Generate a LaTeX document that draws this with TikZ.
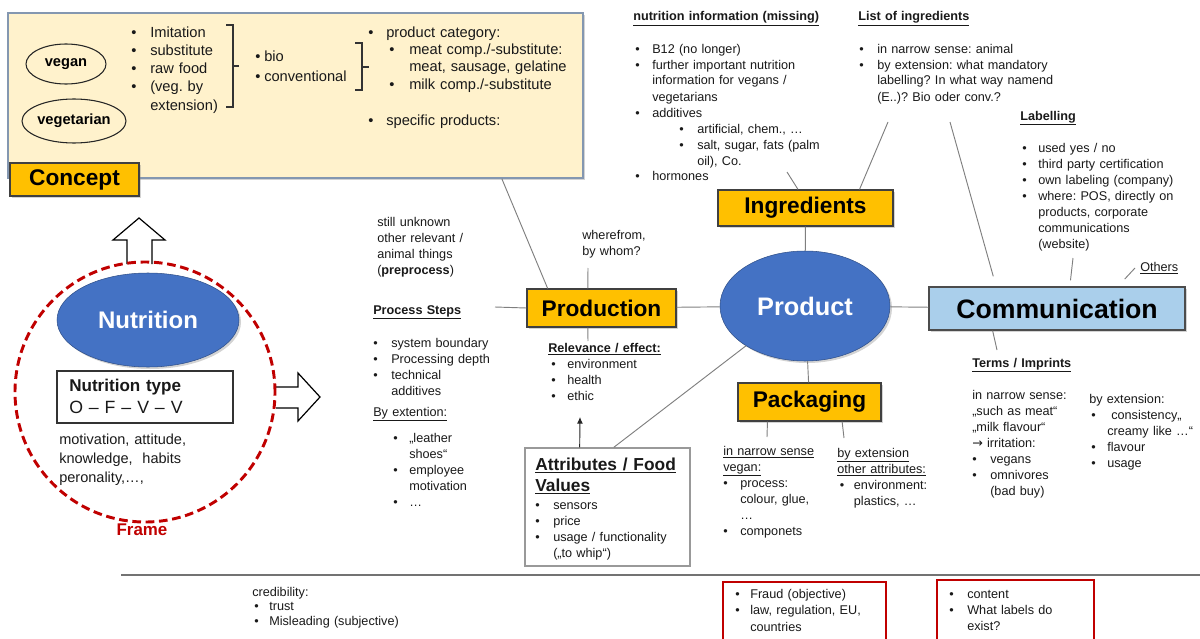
\documentclass[tikz,border=0pt]{standalone}
\usepackage{fontspec}
\setmainfont{Liberation Sans}
\newfontfamily\symfont{DejaVu Sans}
\usetikzlibrary{shapes.geometric,shadows,arrows.meta}
\definecolor{boxorange}{HTML}{FFC000}
\definecolor{conceptfill}{HTML}{FFF2CC}
\definecolor{conceptline}{HTML}{8497B0}
\definecolor{nodeblue}{HTML}{4472C4}
\definecolor{commblue}{HTML}{AACFEB}
\definecolor{framered}{HTML}{C00000}
\definecolor{linegray}{HTML}{7F7F7F}
\newcommand{\bl}[1][12pt]{\makebox[#1][l]{\textbullet}}
\newcommand{\ct}[1][12pt]{\hspace*{#1}}
\frenchspacing

\begin{document}
\begin{tikzpicture}[x=0.75pt,y=-0.75pt,
  txt/.style={font=\fontsize{9.5}{12}\selectfont,text=black!90,anchor=base west,align=left,inner sep=0pt,text width=7cm},
  head/.style={txt,font=\fontsize{9.5}{12}\selectfont\bfseries},
  bigtxt/.style={txt,font=\fontsize{11}{13.7}\selectfont},
  shade/.style={drop shadow={shadow xshift=1.5pt,shadow yshift=-1.5pt,opacity=0.35}},
  obox/.style={draw=black!75,fill=boxorange,line width=0.9pt,font=\fontsize{17}{20}\selectfont\bfseries,inner sep=0pt,shade},
  oval/.style={ellipse,draw=nodeblue!70!black,fill=nodeblue,text=white,font=\fontsize{18}{20}\selectfont\bfseries,inner sep=0pt,shade},
  ring/.style={ellipse,draw=black!85,line width=0.8pt,inner sep=0pt,font=\fontsize{11}{13}\selectfont\bfseries},
  conn/.style={draw=linegray,line width=0.7pt},
  barrow/.style={draw=black,fill=white,line width=0.9pt,line join=miter},
  redbox/.style={draw=framered,line width=0.8pt,inner sep=0pt}]

\useasboundingbox (0,0) rectangle (1200,639);

\node[draw=conceptline,line width=1.3pt,fill=conceptfill,minimum width=431.25pt,minimum height=123.75pt,inner sep=0pt,shade] (concept) at (295.5,95.5) {};
\node[obox,minimum width=96.75pt,minimum height=24.75pt] (conceptlbl) at (74.5,179.5) {Concept};
\node[ring,minimum width=60pt,minimum height=30pt] (vegan) at (66,64) {vegan};
\node[ring,minimum width=78pt,minimum height=33pt] (vegetarian) at (74,121) {vegetarian};
\node[bigtxt] (veglist) at (131,37) {\bl[14.25pt]Imitation\\ \bl[14.25pt]substitute\\ \bl[14.25pt]raw food\\ \bl[14.25pt](veg. by\\ \ct[14.25pt]extension)};
\draw[line width=0.8pt,draw=black!80] (226,25) -- (233,25) -- (233,107) -- (226,107) (233,66) -- (239,66);
\node[bigtxt,font=\fontsize{11}{15}\selectfont] (biolist) at (255,61) {\bl[6.75pt]bio\\ \bl[6.75pt]conventional};
\draw[line width=0.8pt,draw=black!80] (355,43) -- (362,43) -- (362,90) -- (355,90) (362,67) -- (369,67);
\node[bigtxt,font=\fontsize{11}{13}\selectfont] (category) at (368,37) {\bl[13.5pt]product category:\\ \ct[15.75pt]\bl[15pt]meat comp./-substitute:\\ \ct[30.75pt]meat, sausage, gelatine\\ \ct[15.75pt]\bl[15pt]milk comp./-substitute};
\node[bigtxt] (specific) at (368,125) {\bl[13.5pt]specific products:};

\node[head] (nutinfohd) at (633,21) {\underline{nutrition information (missing)}};
\node[txt] (nutinfo) at (635,53) {\bl[12.75pt]B12 (no longer)\\ \bl[12.75pt]further important nutrition\\ \ct[12.75pt]information for vegans /\\ \ct[12.75pt]vegetarians\\ \bl[12.75pt]additives\\ \ct[33pt]\bl[13.5pt]artificial, chem., …\\ \ct[33pt]\bl[13.5pt]salt, sugar, fats (palm\\ \ct[46.5pt]oil), Co.\\ \bl[12.75pt]hormones};
\node[head] (listhd) at (858,21) {\underline{List of ingredients}};
\node[txt] (listing) at (859,53) {\bl[13.5pt]in narrow sense: animal\\ \bl[13.5pt]by extension: what mandatory\\ \ct[13.5pt]labelling? In what way namend\\ \ct[13.5pt](E..)? Bio oder conv.?};
\node[head] (labelhd) at (1020,120) {\underline{Labelling}};
\node[txt] (labelling) at (1022,152) {\bl[12pt]used yes / no\\ \bl[12pt]third party certification\\ \bl[12pt]own labeling (company)\\ \bl[12pt]where: POS, directly on\\ \ct[12pt]products, corporate\\ \ct[12pt]communications\\ \ct[12pt](website)};
\node[txt] (others) at (1140,271) {\underline{Others}};

\node[obox,minimum width=131.25pt,minimum height=27pt] (ingr) at (805.5,208) {Ingredients};
\node[oval,minimum width=127.5pt,minimum height=82.5pt,font=\fontsize{19}{21}\selectfont\bfseries] (product) at (805,306) {Product};
\node[draw=black!70,fill=commblue,line width=1pt,minimum width=192pt,minimum height=32.25pt,inner sep=0pt,font=\fontsize{20}{22}\selectfont\bfseries,shade] (comm) at (1057,308.5) {Communication};
\node[obox,minimum width=111.75pt,minimum height=28.5pt] (prod) at (601.5,308) {Production};
\node[obox,minimum width=107.25pt,minimum height=28.5pt] (pack) at (809.5,402) {Packaging};
\node[draw=black!40,line width=1pt,fill=white,minimum width=123.75pt,minimum height=88.5pt,inner sep=0pt] (attr) at (607.5,507) {};

\node[txt] (unknown) at (377,226) {still unknown\\ other relevant /\\ animal things\\ (\textbf{preprocess})};
\node[txt] (wherefrom) at (582,239) {wherefrom,\\ by whom?};
\node[head] (stepshd) at (373,314) {\underline{Process Steps}};
\node[txt] (steps) at (373,347) {\bl[13.5pt]system boundary\\ \bl[13.5pt]Processing depth\\ \bl[13.5pt]technical\\ \ct[13.5pt]additives};
\node[txt] (byexthd) at (373,416) {\underline{By extention:}};
\node[txt] (byext) at (393,442) {\bl[12pt]„leather\\ \ct[12pt]shoes“\\ \bl[12pt]employee\\ \ct[12pt]motivation\\ \bl[12pt]…};
\node[head] (relhd) at (548,352) {\underline{Relevance / effect:}};
\node[txt] (relevance) at (551,368) {\bl[12pt]environment\\ \bl[12pt]health\\ \bl[12pt]ethic};
\node[txt,font=\fontsize{13}{16}\selectfont\bfseries] (attrhd) at (535,470) {\underline{Attributes / Food}\\ \underline{Values}};
\node[txt] (attrlist) at (535,509) {\bl[13.5pt]sensors\\ \bl[13.5pt]price\\ \bl[13.5pt]usage / functionality\\ \ct[13.5pt](„to whip“)};

\node[txt] (packnarrow) at (723,455) {\underline{in narrow sense}\\ \underline{vegan:}\\ \bl[12.75pt]process:\\ \ct[12.75pt]colour, glue,\\ \ct[12.75pt]…\\ \bl[12.75pt]componets};
\node[txt] (packext) at (837,457) {\underline{by extension}\\ \underline{other attributes:}\\ \ct[2pt]\bl[10.5pt]environment:\\ \ct[12.5pt]plastics, …};
\node[head] (termshd) at (972,367) {\underline{Terms / Imprints}};
\node[txt] (termsnarrow) at (972,399) {in narrow sense:\\ „such as meat“\\ „milk flavour“\\ {\symfont →} irritation:\\ \bl[13.5pt]vegans\\ \bl[13.5pt]omnivores\\ \ct[13.5pt](bad buy)};
\node[txt] (termsext) at (1089,403) {by extension:\\ \ct[1.5pt]\bl[15pt]consistency„\\ \ct[13.5pt]creamy like …“\\ \ct[1.5pt]\bl[12pt]flavour\\ \ct[1.5pt]\bl[12pt]usage};

\draw[barrow] (127,264) -- (127,240) -- (113,240) -- (139,218) -- (165,240) -- (152,240) -- (152,264);
\draw[barrow] (276,387) -- (298,387) -- (298,373) -- (320,397) -- (298,421) -- (298,408) -- (276,408);
\node[circle,draw=framered,line width=2.2pt,dash pattern=on 6.5pt off 3.5pt,minimum size=195pt,inner sep=0pt] (frame) at (145,392) {};
\node[oval,minimum width=136.5pt,minimum height=70.5pt] (nutrition) at (148,320) {Nutrition};
\node[draw=black!80,line width=0.9pt,fill=white,minimum width=132pt,minimum height=39pt,inner sep=0pt] (ntype) at (145,397) {};
\node[txt,font=\fontsize{12.8}{15}\selectfont\bfseries] (ntypehd) at (69,391) {Nutrition type};
\node[txt,font=\fontsize{13.3}{15}\selectfont] (ntypeval) at (69,413) {O – F – V – V};
\node[txt,font=\fontsize{10.9}{14.25}\selectfont] (motiv) at (59,444) {motivation, attitude,\\ knowledge,\ \ habits\\ peronality,…,};
\node[font=\fontsize{12.7}{14}\selectfont\bfseries,text=framered,anchor=base,inner sep=0pt] (framelbl) at (142,535) {Frame};

\draw[draw=black!55,line width=1.2pt] (121,575) -- (1200,575);
\node[txt,font=\fontsize{9.5}{11}\selectfont] (cred) at (252,596) {credibility:\\ \ct[1.5pt]\bl[11.25pt]trust\\ \ct[1.5pt]\bl[11.25pt]Misleading (subjective)};
\node[redbox,minimum width=122.25pt,minimum height=49.5pt] (fraudbox) at (804.5,615) {};
\node[txt,font=\fontsize{9.5}{12.4}\selectfont] (fraud) at (735,598) {\bl[11.25pt]Fraud (objective)\\ \bl[11.25pt]law, regulation, EU,\\ \ct[11.25pt]countries};
\node[redbox,minimum width=117.75pt,minimum height=51pt] (contentbox) at (1015.5,614) {};
\node[txt] (content) at (949,598) {\bl[13.5pt]content\\ \bl[13.5pt]What labels do\\ \ct[13.5pt]exist?};

\coordinate (niend) at (787,172);
\coordinate (loia) at (888,122);
\coordinate (loib) at (950,122);
\coordinate (labend) at (1073,258);
\coordinate (othend) at (1135,268);
\coordinate (wfend) at (588,268);
\coordinate (psend) at (495,307);
\coordinate (relend) at (588,341);
\coordinate (arrtip) at (580,417);
\coordinate (termsend) at (997,350);
\coordinate (pnend) at (767,437);
\coordinate (peend) at (844,438);

\draw[conn] (concept.-22.9) -- (prod.160.8);
\draw[conn] (niend) -- (ingr.112.6);
\draw[conn] (loia) -- (ingr.19.6);
\draw[conn,shorten >=7.8pt] (loib) -- (comm.160.6);
\draw[conn,shorten >=4.5pt] (labend) -- (comm.60.4);
\draw[conn,shorten >=7.4pt] (othend) -- (comm.20);
\draw[conn] (ingr) -- (product);
\draw[conn] (product) -- (comm);
\draw[conn] (product) -- (pack);
\draw[conn] (prod) -- (product);
\draw[conn] (product.214) -- (attr.84.7);
\draw[conn] (wfend) -- (prod.125.4);
\draw[conn] (psend) -- (prod.west);
\draw[conn] (prod.-125.4) -- (relend);
\draw[conn,draw=black!85,-{Latex[length=5pt,width=4.5pt]}] (attr.115) -- (arrtip);
\draw[conn] (comm.199.4) -- (termsend);
\draw[conn] (pack.205.7) -- (pnend);
\draw[conn] (pack.-31.9) -- (peend);
\end{tikzpicture}
\end{document}
